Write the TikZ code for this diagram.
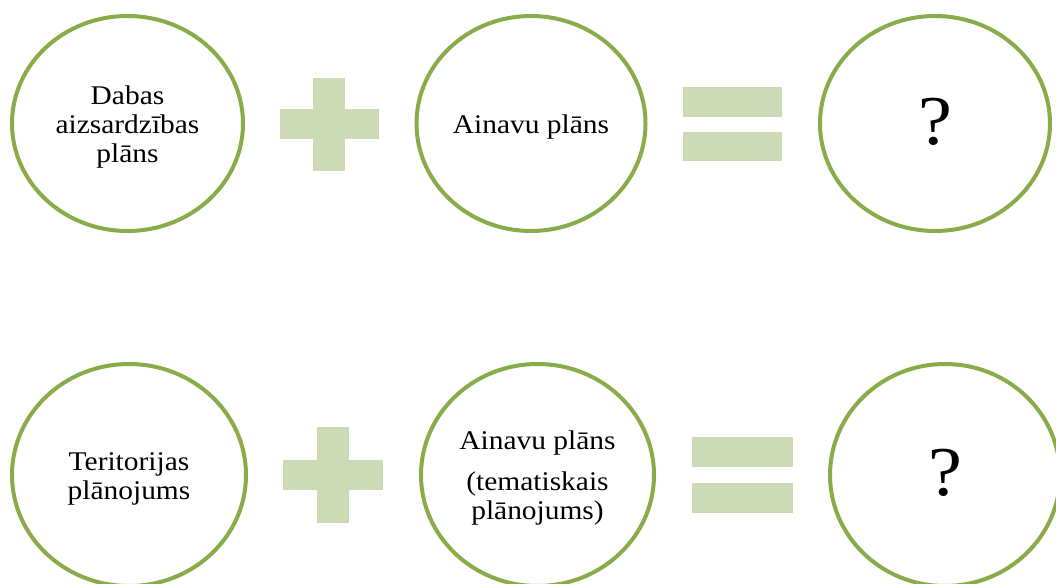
\documentclass[tikz,border=0pt]{standalone}
\usepackage{fontspec}
\setmainfont{Liberation Serif}[FakeStretch=1.09]
\usetikzlibrary{shapes.geometric}
\definecolor{ringgreen}{RGB}{136,172,74}
\definecolor{signgreen}{RGB}{204,218,181}
\tikzset{
  x=1pt, y=-1pt,
  ring/.style={ellipse, draw=ringgreen, line width=4pt, fill=white, inner sep=0pt},
  ringtext/.style={align=center, inner sep=0pt, font=\fontsize{27}{29}\selectfont},
  qmark/.style={font=\fontsize{70}{70}\selectfont},
  sign/.style={fill=signgreen, draw=none}
}
\begin{document}
\begin{tikzpicture}
\useasboundingbox (0,0) rectangle (1056,583);
% top row
\node[ring, minimum width=231pt, minimum height=215pt] (a1) at (127.5,123.5) {};
\node[ringtext] (t1) at (127.5,127.5) {Dabas\\aizsardzības\\plāns};
\node[ring, minimum width=229pt, minimum height=215pt] (a2) at (531,123.5) {};
\node[ringtext] (t2) at (531,127.5) {Ainavu plāns};
\node[ring, minimum width=230pt, minimum height=215pt] (a3) at (935,123.5) {};
\node[qmark] (q1) at (935,122) {?};
\fill[sign] (280,109) rectangle (379,139);
\fill[sign] (313,78) rectangle (345,171);
\fill[sign] (683,87) rectangle (782,117);
\fill[sign] (683,132) rectangle (782,161);
% bottom row
\node[ring, minimum width=234pt, minimum height=222pt] (b1) at (129,475) {};
\node[ringtext] (t4) at (129,479) {Teritorijas\\plānojums};
\node[ring, minimum width=233pt, minimum height=222pt] (b2) at (537.5,475) {};
\node[ringtext] (t5) at (537.5,478) {Ainavu plāns\\[12pt](tematiskais\\plānojums)};
\node[ring, minimum width=230pt, minimum height=222pt] (b3) at (945,475) {};
\node[qmark] (q2) at (945,473) {?};
\fill[sign] (283,460) rectangle (383,490);
\fill[sign] (317,427) rectangle (349,523);
\fill[sign] (692,437) rectangle (793,467);
\fill[sign] (692,483) rectangle (793,513);
\end{tikzpicture}
\end{document}
